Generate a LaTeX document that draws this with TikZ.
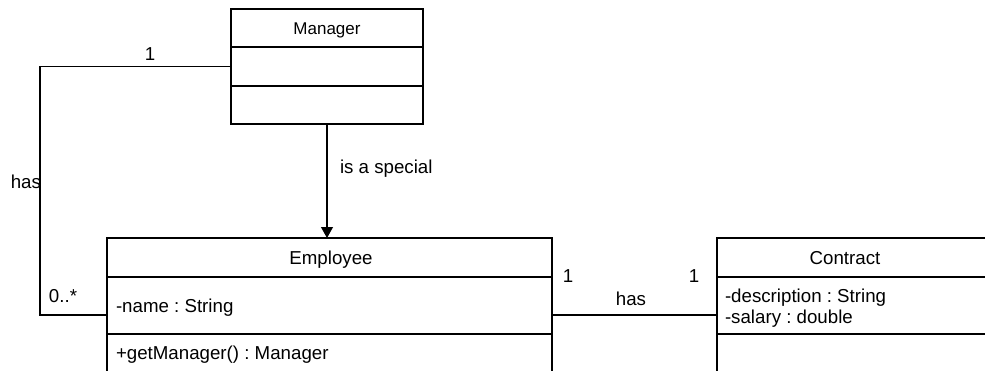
\documentclass[tikz,border=0pt]{standalone}
\usepackage{fontspec}
\setmainfont{Liberation Sans}
\usetikzlibrary{arrows.meta}
\frenchspacing
\begin{document}
\begin{tikzpicture}[x=1pt,y=-1pt, line width=1.3pt,
  classbox/.style={draw, rectangle, inner sep=0pt, outer sep=0pt},
  txt/.style={inner sep=0pt, outer sep=0pt, font=\fontsize{18.7}{22}\selectfont},
  ttl/.style={inner sep=0pt, outer sep=0pt, font=\fontsize{17}{20}\selectfont},
  tip/.style={-{Triangle[width=12pt,length=11pt]}}]
\clip (0,0) rectangle (985,370);
\fill[white] (0,0) rectangle (985,370);
% class boxes
\node[classbox, minimum width=192pt, minimum height=115pt] (mgr) at (327,66.5) {};
\node[classbox, minimum width=445pt, minimum height=154pt] (emp) at (329.5,315) {};
\node[classbox, minimum width=284pt, minimum height=154pt] (con) at (859,315) {};
% compartments
\draw (mgr.west |- 0,47) -- (mgr.east |- 0,47);
\draw (mgr.west |- 0,86) -- (mgr.east |- 0,86);
\draw (emp.west |- 0,277) -- (emp.east |- 0,277);
\draw (emp.west |- 0,334) -- (emp.east |- 0,334);
\draw (con.west |- 0,277) -- (con.east |- 0,277);
\draw (con.west |- 0,334) -- (con.east |- 0,334);
% texts in boxes
\node[ttl, anchor=base] (mgrT) at (327,34.5) {Manager};
\node[txt, anchor=base] (empT) at (331,264) {Employee};
\node[txt, anchor=base west] (empA) at (116,312) {-name : String};
\node[txt, anchor=base west] (empO) at (116,359.5) {+getManager() : Manager};
\node[txt, anchor=base] (conT) at (845,264) {Contract};
\node[txt, anchor=base west] (conA1) at (725,302) {-description : String};
\node[txt, anchor=base west] (conA2) at (725,323) {-salary : double};
% connectors
\coordinate (bend) at (40,66.5);
\draw (mgr.west) -- (bend) |- (emp.west);
\draw[tip, line width=1.1pt] (mgr.south) -- (mgr.south |- emp.north);
\draw (emp.east) -- (con.west);
% connector labels
\node[txt, anchor=base] (m1) at (150,60) {1};
\node[txt, anchor=base east] (hasL) at (41,188) {has};
\node[txt, anchor=base] (many) at (63,302) {0..*};
\node[txt, anchor=base west] (isa) at (340,173) {is a special};
\node[txt, anchor=base] (e1) at (568,282) {1};
\node[txt, anchor=base] (c1) at (694,282) {1};
\node[txt, anchor=base] (hasR) at (631,305) {has};
\end{tikzpicture}
\end{document}
